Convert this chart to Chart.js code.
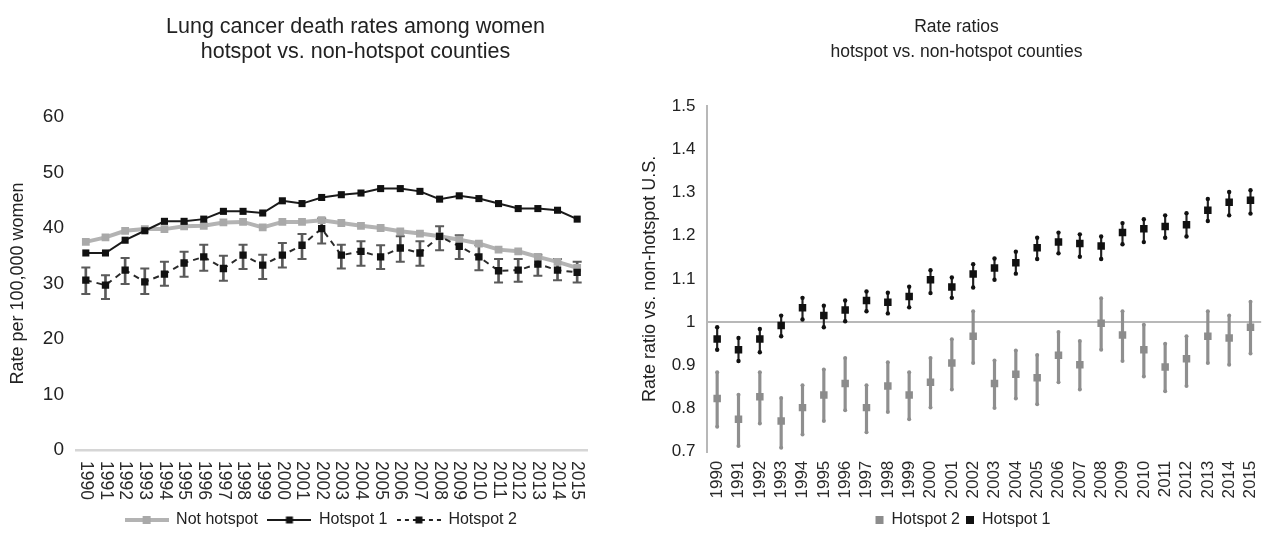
<!DOCTYPE html>
<html><head><meta charset="utf-8">
<script src="https://cdn.jsdelivr.net/npm/chart.js@4/dist/chart.umd.min.js"></script>
<style>
html,body{margin:0;padding:0;background:#fff;overflow:hidden;width:1272px;height:538px;}
canvas{position:absolute;top:0;}
</style></head><body>
<canvas id="left" width="640" height="538" style="left:0px;width:640px;height:538px"></canvas>
<canvas id="right" width="644" height="538" style="left:636px;width:644px;height:538px"></canvas>
<script>
// ---------------- data ----------------
const years = ['1990','1991','1992','1993','1994','1995','1996','1997','1998','1999','2000','2001','2002',
               '2003','2004','2005','2006','2007','2008','2009','2010','2011','2012','2013','2014','2015'];

// Left panel: death rates per 100,000 women
const notHotspot = [37.5,38.3,39.5,39.8,39.8,40.3,40.4,41.0,41.1,40.1,41.1,41.1,41.4,40.9,40.4,40.0,39.4,39.0,38.5,37.9,37.2,36.1,35.8,34.8,33.9,32.8];
const hotspot1   = [35.5,35.5,37.8,39.5,41.2,41.2,41.6,43.0,43.0,42.7,44.9,44.4,45.5,46.0,46.3,47.1,47.1,46.6,45.2,45.8,45.3,44.4,43.5,43.5,43.2,41.6];
const hotspot2   = [30.6,29.7,32.4,30.3,31.7,33.7,34.8,32.7,35.1,33.3,35.1,36.9,39.9,35.1,35.8,34.8,36.4,35.5,38.5,36.7,34.8,32.3,32.4,33.5,32.4,32.0];
const hotspot2Hi = [32.9,31.5,34.6,32.7,33.9,35.7,37.0,35.0,37.0,35.2,37.3,38.9,41.7,37.0,37.6,36.9,38.5,37.6,40.3,38.7,36.9,34.4,34.4,35.2,34.4,33.9];
const hotspot2Lo = [28.1,27.2,29.9,28.1,29.6,31.2,32.3,30.5,32.6,30.8,32.9,34.4,37.2,32.7,33.2,32.6,33.9,33.2,36.0,34.4,32.4,30.2,30.3,31.4,30.6,30.2];
const leftTicks = [0,10,20,30,40,50,60];

// Right panel: rate ratios vs non-hotspot U.S.
const ratioH1   = [0.961,0.936,0.961,0.992,1.033,1.015,1.028,1.050,1.046,1.059,1.098,1.081,1.111,1.125,1.137,1.172,1.185,1.182,1.176,1.207,1.216,1.221,1.225,1.259,1.277,1.282];
const ratioH1Hi = [0.988,0.963,0.984,1.015,1.056,1.038,1.050,1.071,1.068,1.082,1.120,1.103,1.134,1.147,1.163,1.195,1.207,1.203,1.198,1.229,1.238,1.247,1.252,1.285,1.301,1.305];
const ratioH1Lo = [0.936,0.910,0.930,0.967,1.006,0.988,1.002,1.025,1.020,1.034,1.067,1.056,1.080,1.098,1.112,1.146,1.159,1.151,1.146,1.180,1.185,1.195,1.198,1.234,1.247,1.251];
const ratioH2   = [0.823,0.775,0.827,0.771,0.802,0.831,0.858,0.802,0.852,0.831,0.861,0.905,0.967,0.858,0.879,0.871,0.923,0.901,0.997,0.970,0.936,0.896,0.915,0.967,0.963,0.988];
const ratioH2Hi = [0.884,0.832,0.884,0.824,0.854,0.890,0.917,0.854,0.907,0.884,0.917,0.960,1.025,0.911,0.934,0.924,0.977,0.956,1.055,1.025,0.994,0.950,0.967,1.025,1.015,1.047];
const ratioH2Lo = [0.758,0.713,0.765,0.709,0.740,0.771,0.796,0.745,0.792,0.775,0.802,0.844,0.905,0.801,0.823,0.810,0.861,0.844,0.936,0.910,0.874,0.840,0.852,0.905,0.901,0.927];
const rightTicks = [0.7,0.8,0.9,1,1.1,1.2,1.3,1.4,1.5];

// ---------------- styling helpers ----------------
Chart.defaults.font.family = "'Liberation Sans', Arial, Helvetica, sans-serif";
Chart.defaults.color = '#222';

const shiftBoxes = {
  id: 'shiftBoxes',
  afterLayout(chart, args, opts) {
    if (opts.title && chart.titleBlock) { chart.titleBlock.left += opts.title; chart.titleBlock.right += opts.title; }
    if (opts.legend && chart.legend) { chart.legend.left += opts.legend; chart.legend.right += opts.legend; }
  }
};

const clockwiseTicks = {
  id: 'clockwiseTicks',
  afterDraw(chart, args, opts) {
    const xs = chart.scales.x, ctx = chart.ctx;
    ctx.save();
    ctx.font = opts.size + "px 'Liberation Sans', Arial, sans-serif";
    ctx.fillStyle = opts.color;
    ctx.textAlign = 'left';
    ctx.textBaseline = 'middle';
    chart.data.labels.forEach((lab, i) => {
      ctx.save();
      ctx.translate(xs.getPixelForTick(i), xs.top + opts.padding);
      ctx.rotate(Math.PI / 2);
      ctx.fillText(lab, 0, 0);
      ctx.restore();
    });
    ctx.restore();
  }
};

function makeIcon(lineColor, lineWidth, dash, markColor, markSize) {
  const c = document.createElement('canvas');
  c.width = 44; c.height = 14;
  const g = c.getContext('2d');
  g.strokeStyle = lineColor; g.lineWidth = lineWidth; g.setLineDash(dash);
  g.beginPath(); g.moveTo(0, 7); g.lineTo(44, 7); g.stroke();
  g.fillStyle = markColor;
  g.fillRect(22 - markSize / 2, 7 - markSize / 2, markSize, markSize);
  return c;
}
const leftIcons = [
  makeIcon('#b3b3b3', 4, [], '#a9a9a9', 8),
  makeIcon('#1a1a1a', 2, [], '#111', 7),
  makeIcon('#222', 2, [4, 4], '#111', 7)
];

// ---------------- left chart ----------------
new Chart(document.getElementById('left'), {
  type: 'line',
  data: {
    labels: years,
    datasets: [
      { label: 'Not hotspot', data: notHotspot, borderColor: '#b3b3b3', backgroundColor: '#a9a9a9', borderWidth: 4,
        pointStyle: 'rect', pointRadius: 5.5, pointBackgroundColor: '#a9a9a9', pointBorderColor: '#a9a9a9', pointBorderWidth: 0, order: 3, tension: 0 },
      { label: 'Hotspot 1', data: hotspot1, borderColor: '#1a1a1a', backgroundColor: '#111', borderWidth: 2,
        pointStyle: 'rect', pointRadius: 5, pointBackgroundColor: '#111', pointBorderColor: '#111', pointBorderWidth: 0, order: 1, tension: 0 },
      { label: 'Hotspot 2', data: hotspot2, borderColor: '#2a2a2a', backgroundColor: '#111', borderWidth: 2, borderDash: [6, 5],
        pointStyle: 'rect', pointRadius: 5.2, pointBackgroundColor: '#111', pointBorderColor: '#111', pointBorderWidth: 0, order: 0, tension: 0 },
      { type: 'bar', label: 'H2 CI', data: hotspot2Lo.map((l, i) => [l, hotspot2Hi[i]]), backgroundColor: '#5a5a5a',
        barThickness: 2, grouped: false, borderWidth: 0, order: 6 },
      { label: 'H2 upper', data: hotspot2Hi, showLine: false, pointStyle: 'line', pointRadius: 4.5,
        pointBorderColor: '#5a5a5a', pointBorderWidth: 2, order: 5 },
      { label: 'H2 lower', data: hotspot2Lo, showLine: false, pointStyle: 'line', pointRadius: 4.5,
        pointBorderColor: '#5a5a5a', pointBorderWidth: 2, order: 5 }
    ]
  },
  options: {
    responsive: false, animation: false, events: [],
    layout: { padding: { left: 0, right: 53, top: 0, bottom: 0 } },
    scales: {
      x: { offset: true, grid: { display: false, drawTicks: false },
           border: { display: true, color: '#d6d6d6', width: 2.5 },
           ticks: { display: false },
           afterFit(s) { s.height = 52; } },
      y: { min: 0, max: 60, grid: { display: false, drawTicks: false }, border: { display: false },
           afterBuildTicks(s) { s.ticks = leftTicks.map(v => ({ value: v })); },
           ticks: { font: { size: 19 }, padding: 12, color: '#222' },
           title: { display: true, text: 'Rate per 100,000 women', font: { size: 18 }, color: '#222', padding: { top: 7, bottom: 0 } },
           afterFit(s) { s.width = 76; } }
    },
    plugins: {
      title: { display: true, text: ['Lung cancer death rates among women', 'hotspot vs. non-hotspot counties'],
               font: { size: 21.5, weight: 'normal', lineHeight: '25px' }, color: '#222', padding: { top: 14.5, bottom: 52.5 } },
      legend: { position: 'bottom',
        labels: { usePointStyle: true, pointStyleWidth: 43, font: { size: 16 }, color: '#222', padding: 10,
          filter: (it) => it.datasetIndex < 3,
          sort: (a, b) => a.datasetIndex - b.datasetIndex,
          generateLabels(chart) {
            const items = Chart.defaults.plugins.legend.labels.generateLabels(chart);
            items.forEach(it => { if (it.datasetIndex < 3) { it.pointStyle = leftIcons[it.datasetIndex]; it.lineDash = []; } });
            return items;
          } } },
      tooltip: { enabled: false },
      shiftBoxes: { title: 62, legend: 27.5 },
      clockwiseTicks: { size: 17.5, color: '#2a2a2a', padding: 11 }
    }
  },
  plugins: [shiftBoxes, clockwiseTicks]
});

// ---------------- right chart ----------------
new Chart(document.getElementById('right'), {
  type: 'line',
  data: {
    labels: years,
    datasets: [
      { label: 'Hotspot 2', data: ratioH2, showLine: false, backgroundColor: '#8c8c8c', borderColor: '#8c8c8c', borderWidth: 0,
        pointStyle: 'rect', pointRadius: 5.3, pointBackgroundColor: '#8c8c8c', pointBorderWidth: 0, order: 0 },
      { label: 'Hotspot 1', data: ratioH1, showLine: false, backgroundColor: '#111', borderColor: '#111', borderWidth: 0,
        pointStyle: 'rect', pointRadius: 5.3, pointBackgroundColor: '#111', pointBorderWidth: 0, order: 0 },
      { type: 'bar', label: 'H2 CI', data: ratioH2Lo.map((l, i) => [l, ratioH2Hi[i]]), backgroundColor: '#8f8f8f',
        barThickness: 2.5, grouped: false, borderWidth: 0, order: 6 },
      { label: 'H2 upper', data: ratioH2Hi, showLine: false, pointStyle: 'circle', pointRadius: 2,
        pointBackgroundColor: '#8f8f8f', pointBorderWidth: 0, order: 5 },
      { label: 'H2 lower', data: ratioH2Lo, showLine: false, pointStyle: 'circle', pointRadius: 2,
        pointBackgroundColor: '#8f8f8f', pointBorderWidth: 0, order: 5 },
      { type: 'bar', label: 'H1 CI', data: ratioH1Lo.map((l, i) => [l, ratioH1Hi[i]]), backgroundColor: '#222',
        barThickness: 1.5, grouped: false, borderWidth: 0, order: 6 },
      { label: 'H1 upper', data: ratioH1Hi, showLine: false, pointStyle: 'circle', pointRadius: 2.2,
        pointBackgroundColor: '#111', pointBorderWidth: 0, order: 5 },
      { label: 'H1 lower', data: ratioH1Lo, showLine: false, pointStyle: 'circle', pointRadius: 2.2,
        pointBackgroundColor: '#111', pointBorderWidth: 0, order: 5 }
    ]
  },
  options: {
    responsive: false, animation: false, events: [],
    layout: { padding: { left: 0, right: 3, top: 0, bottom: 0 } },
    scales: {
      x: { offset: true, grid: { display: false, drawTicks: false }, border: { display: false },
           ticks: { minRotation: 90, maxRotation: 90, autoSkip: false, padding: 9, font: { size: 17 }, color: '#2a2a2a' },
           afterFit(s) { s.height = 54.3; } },
      y: { min: 0.7, max: 1.5,
           grid: { drawTicks: false, lineWidth: 2,
                   color: (c) => (c.tick && Math.abs(c.tick.value - 1) < 1e-9) ? '#b8b8b8' : 'rgba(0,0,0,0)' },
           border: { display: true, color: '#b8b8b8', width: 2 },
           afterBuildTicks(s) { s.ticks = rightTicks.map(v => ({ value: v })); },
           ticks: { font: { size: 17 }, padding: 11, color: '#222', callback: (v) => String(Math.round(v * 10) / 10) },
           title: { display: true, text: 'Rate ratio vs. non-hotspot U.S.', font: { size: 18 }, color: '#222', padding: { top: 3.2, bottom: 0 } },
           afterFit(s) { s.width = 70.5; } }
    },
    plugins: {
      title: { display: true, text: ['Rate ratios', 'hotspot vs. non-hotspot counties'],
               font: { size: 17.5, weight: 'normal', lineHeight: '25px' }, color: '#222', padding: { top: 14.5, bottom: 41.5 } },
      legend: { position: 'bottom',
        labels: { boxWidth: 8, boxHeight: 8, font: { size: 16 }, color: '#222', padding: 6,
          filter: (it) => it.datasetIndex < 2 } },
      tooltip: { enabled: false },
      shiftBoxes: { legend: 6.5 }
    }
  },
  plugins: [shiftBoxes]
});
</script>
</body></html>
